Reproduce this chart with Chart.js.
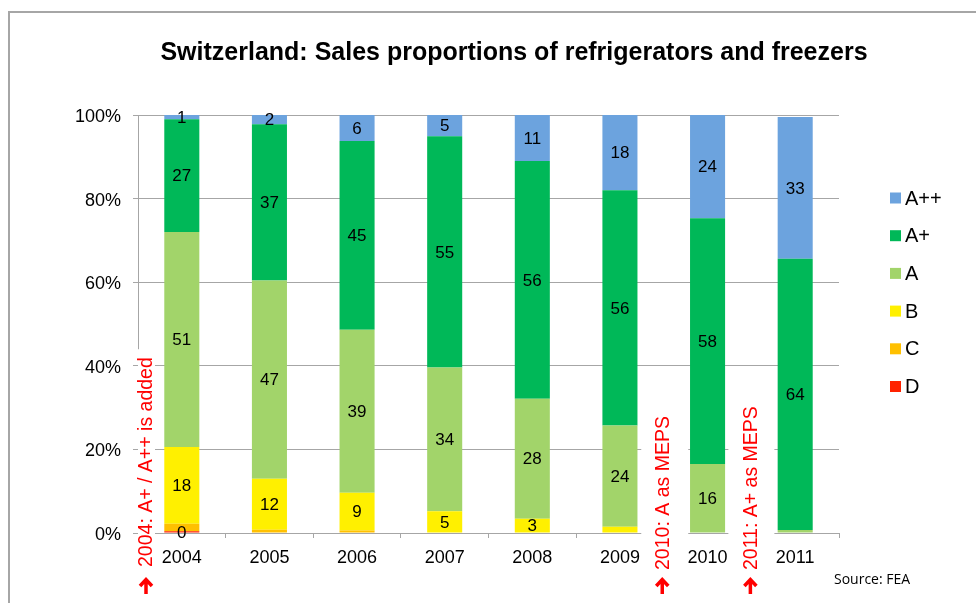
<!DOCTYPE html>
<html>
<head>
<meta charset="utf-8">
<title>Switzerland: Sales proportions of refrigerators and freezers</title>
<script src="https://cdn.jsdelivr.net/npm/chart.js@4.4.1/dist/chart.umd.min.js"></script>
<style>
  html, body { margin: 0; padding: 0; background: #fff; }
  #wrap { position: relative; width: 976px; height: 603px; overflow: hidden; }
  #frame { position: absolute; left: 8px; top: 11px; width: 1200px; height: 800px;
           border-left: 2px solid #a6a6a6; border-top: 2px solid #a6a6a6; }
  canvas { position: absolute; left: 0; top: 0; }
</style>
</head>
<body>
<div id="wrap">
  <div id="frame"></div>
  <canvas id="myChart" width="976" height="603"></canvas>
</div>
<script>
// sales share per energy class, in percent
const years = ['2004', '2005', '2006', '2007', '2008', '2009', '2010', '2011'];
const shareD   = [0.4, 0, 0, 0, 0, 0, 0, 0];
const shareC   = [1.8, 0.8, 0.6, 0, 0, 0, 0, 0];
const shareB   = [18.4, 12.2, 9.0, 5.2, 3.4, 1.5, 0, 0];
const shareA   = [51.4, 47.4, 39.0, 34.4, 28.7, 24.2, 16.5, 0.7];
const shareAp  = [27.0, 37.4, 45.2, 55.3, 56.9, 56.3, 58.8, 64.9];
const shareApp = [1.0, 2.2, 6.2, 5.1, 11.0, 18.0, 24.7, 33.9];
const yTicks = [0, 20, 40, 60, 80, 100];

const chartTitle = 'Switzerland: Sales proportions of refrigerators and freezers';
const notes = ['2004: A+ / A++ is added', '2010: A as MEPS', '2011: A+ as MEPS'];
const sourceText = 'Source: FEA';

const FONT = "'Liberation Sans', Arial, sans-serif";

// which segments get a number written on them
function showLabel(cls, v) {
    if (cls === 'C') return false;
    if (cls === 'D' || cls === 'A++' || cls === 'A+') return v > 0;
    return v >= 3;
}

const overlay = {
    id: 'overlay',
    afterDatasetsDraw(chart) {
        const ctx = chart.ctx;
        ctx.save();
        ctx.font = '17px ' + FONT;
        ctx.fillStyle = '#000';
        ctx.textAlign = 'center';
        ctx.textBaseline = 'middle';
        chart.data.datasets.forEach(function (ds, i) {
            const meta = chart.getDatasetMeta(i);
            meta.data.forEach(function (bar, j) {
                const v = ds.data[j];
                if (!showLabel(ds.label, v)) return;
                ctx.fillText(String(Math.floor(v + 1e-9)), bar.x, (bar.y + bar.base) / 2 + 1);
            });
        });
        ctx.restore();
    },
    afterDraw(chart) {
        const ctx = chart.ctx;
        const area = chart.chartArea;
        const x = chart.scales.x;
        ctx.save();

        // title
        ctx.fillStyle = '#000';
        ctx.font = 'bold 25px ' + FONT;
        ctx.textAlign = 'center';
        ctx.textBaseline = 'middle';
        ctx.fillText(chartTitle, 514, 53);

        // legend, top class first
        ctx.font = '20px ' + FONT;
        ctx.textAlign = 'left';
        const ds = chart.data.datasets.slice().reverse();
        ds.forEach(function (d, i) {
            const y = area.top + 83 + i * 37.7;
            ctx.fillStyle = d.backgroundColor;
            ctx.fillRect(area.right + 51, y - 5.5, 11, 11);
            ctx.fillStyle = '#000';
            ctx.fillText(d.label, area.right + 66, y + 1);
        });

        // red notes at the category boundaries, with an arrow under each
        const anchors = [
            { at: -0.5, dx: 8, left: 8, right: 9, bottom: 567 },
            { at: 5.5, dx: -1.5, left: 21, right: 26, bottom: 570 },
            { at: 6.5, dx: -1, left: 22, right: 24, bottom: 570 }
        ];
        ctx.font = '19.5px ' + FONT;
        notes.forEach(function (txt, i) {
            const a = anchors[i];
            const cx = x.getPixelForValue(a.at) + a.dx;
            const w = ctx.measureText(txt).width;
            ctx.fillStyle = '#fff';
            ctx.fillRect(cx - a.left, a.bottom - w - 8, a.left + a.right, chart.height);
            ctx.save();
            ctx.translate(cx, a.bottom);
            ctx.rotate(-Math.PI / 2);
            ctx.fillStyle = '#ff0000';
            ctx.textAlign = 'left';
            ctx.textBaseline = 'middle';
            ctx.fillText(txt, 0, 1);
            ctx.restore();

            ctx.strokeStyle = '#ff0000';
            ctx.lineWidth = 3.5;
            ctx.beginPath();
            ctx.moveTo(cx, 594);
            ctx.lineTo(cx, 580);
            ctx.moveTo(cx - 6, 586);
            ctx.lineTo(cx, 579.5);
            ctx.lineTo(cx + 6, 586);
            ctx.stroke();
        });

        ctx.fillStyle = '#000';
        ctx.font = "14px 'Open Sans', sans-serif";
        ctx.textAlign = 'left';
        ctx.textBaseline = 'middle';
        ctx.fillText(sourceText, 834, 580);
        ctx.restore();
    }
};

const ctx = document.getElementById('myChart').getContext('2d');
const config = {
    type: 'bar',
    data: {
        labels: years,
        datasets: [
            { label: 'D', data: shareD, backgroundColor: '#ff2200' },
            { label: 'C', data: shareC, backgroundColor: '#ffc000' },
            { label: 'B', data: shareB, backgroundColor: '#fff000' },
            { label: 'A', data: shareA, backgroundColor: '#a2d46a' },
            { label: 'A+', data: shareAp, backgroundColor: '#00b858' },
            { label: 'A++', data: shareApp, backgroundColor: '#6ca3de' }
        ]
    },
    options: {
        responsive: false,
        animation: false,
        devicePixelRatio: 1,
        categoryPercentage: 1,
        barPercentage: 0.4,
        layout: { padding: { top: 115, right: 137, bottom: 0, left: 0 } },
        plugins: {
            legend: { display: false },
            title: { display: false },
            tooltip: { enabled: false }
        },
        scales: {
            x: {
                stacked: true,
                offset: true,
                grid: { drawOnChartArea: false, drawTicks: true, tickLength: 5, color: '#a6a6a6', offset: true },
                border: { color: '#a6a6a6' },
                ticks: { color: '#000', font: { family: FONT, size: 18 }, padding: 9, maxRotation: 0 },
                afterFit: function (scale) { scale.height = 70; }
            },
            y: {
                stacked: true,
                min: 0,
                max: 100,
                afterBuildTicks: function (scale) {
                    scale.ticks = yTicks.map(function (v) { return { value: v }; });
                },
                ticks: {
                    color: '#000',
                    font: { family: FONT, size: 18 },
                    padding: 12,
                    labelOffset: 2,
                    callback: function (v) { return v + '%'; }
                },
                grid: { color: '#a6a6a6', tickLength: 5 },
                border: { color: '#a6a6a6' },
                afterFit: function (scale) { scale.width = 138; }
            }
        }
    },
    plugins: [overlay]
};
const myChart = new Chart(ctx, config);
</script>
</body>
</html>
